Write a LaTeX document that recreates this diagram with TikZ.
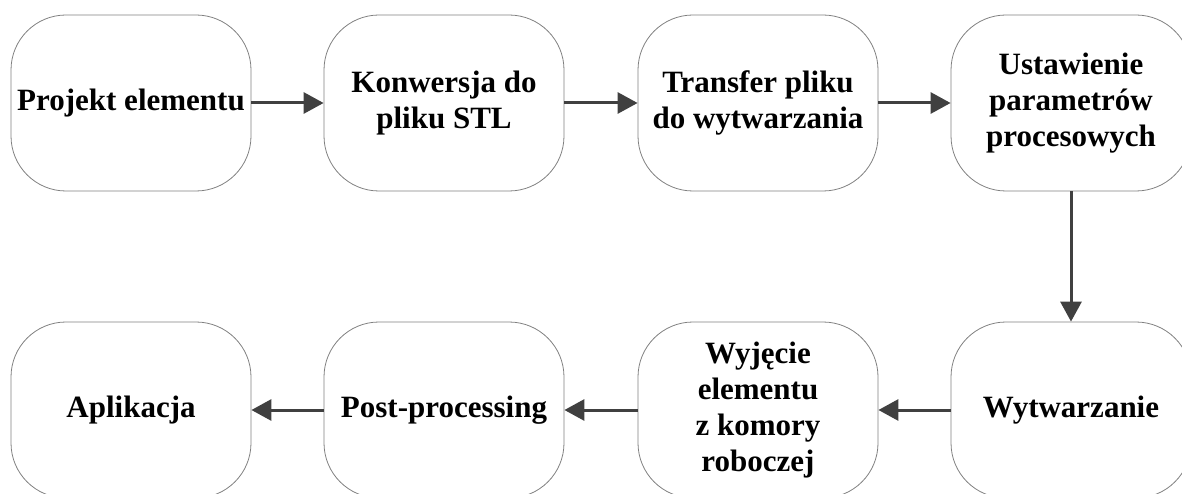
\documentclass[tikz,border=0pt]{standalone}
\usepackage{fontspec}
\setmainfont{Liberation Serif}
\usetikzlibrary{arrows.meta}

\begin{document}
\begin{tikzpicture}[x=1pt,y=1pt,
            etap/.style={draw=gray,line width=0.8pt,rounded corners=55pt,minimum width=240pt,minimum height=176pt,align=center,font=\fontsize{31}{36}\selectfont\bfseries},
            strzalka/.style={line width=3pt,draw=black!75,-{Triangle[length=20pt,width=21pt]}}]
            \useasboundingbox (0,0) rectangle (1182,493);
            \node[etap] (proj) at (131,390) {Projekt elementu};
            \node[etap] (konw) at (444,390) {Konwersja do\\pliku STL};
            \node[etap] (transfer) at (758,390) {Transfer pliku\\do wytwarzania};
            \node[etap] (param) at (1071,390) {Ustawienie\\parametrów\\procesowych};
            \node[etap] (wytw) at (1071,83) {Wytwarzanie};
            \node[etap] (wyjecie) at (758,83) {Wyjęcie\\elementu\\z komory\\roboczej};
            \node[etap] (post) at (444,83) {Post-processing};
            \node[etap] (apl) at (131,83) {Aplikacja};
            \foreach \a/\b in {proj/konw,konw/transfer,transfer/param,param/wytw,wytw/wyjecie,wyjecie/post,post/apl}
                \draw[strzalka] (\a) -- (\b);
        \end{tikzpicture}
\end{document}
